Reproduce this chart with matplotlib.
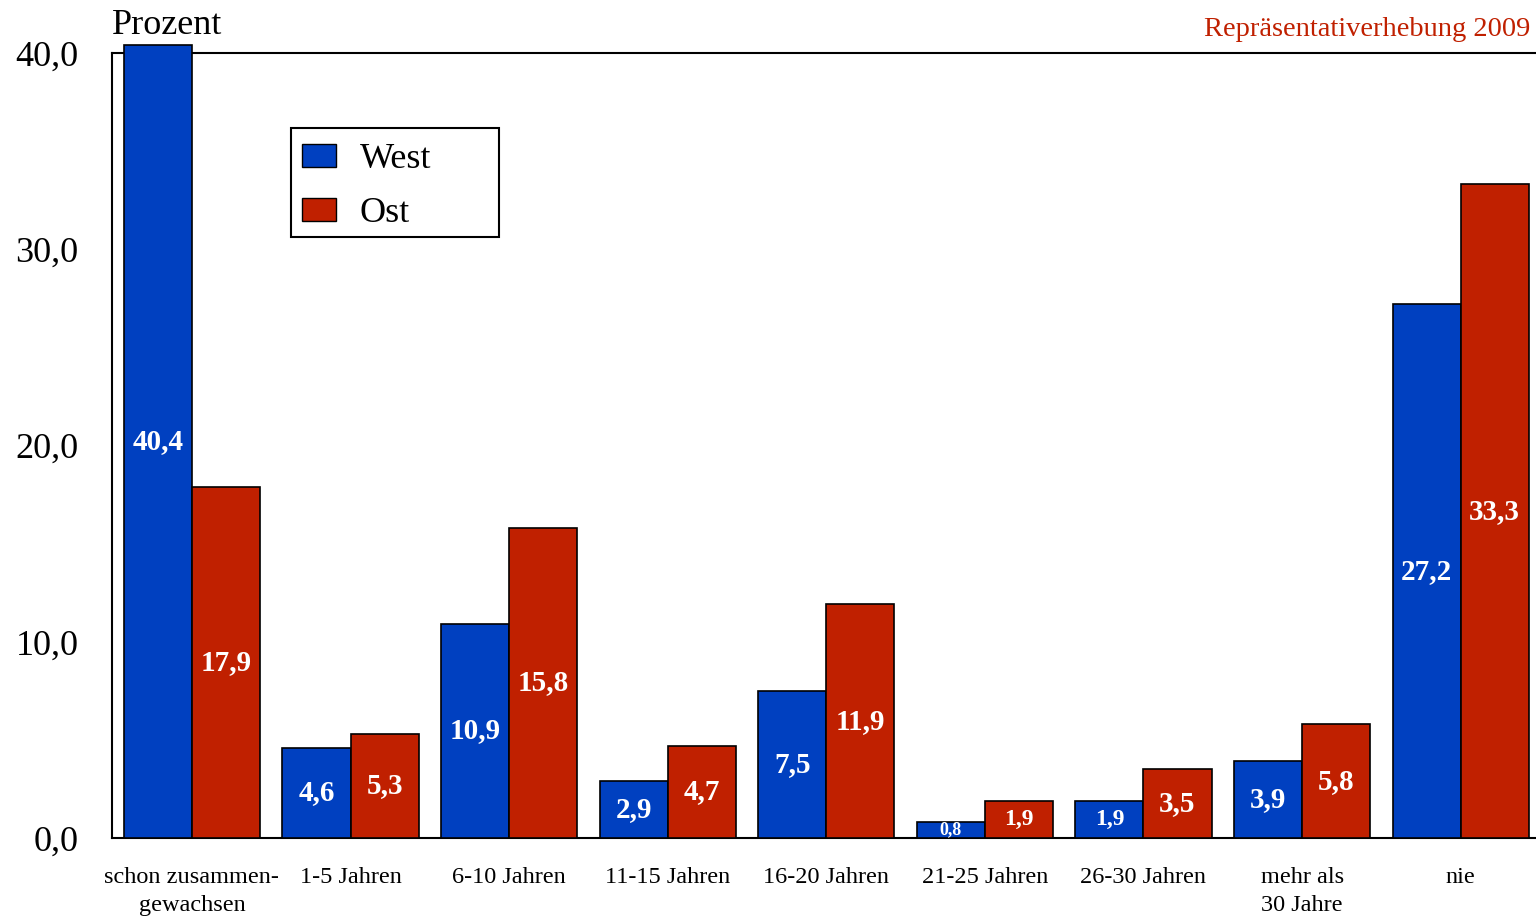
import matplotlib.pyplot as plt
import numpy as np
from matplotlib.patches import Patch, Rectangle

plt.rcParams['font.family'] = ['Liberation Serif', 'DejaVu Serif']

# Data
categories = ['schon zusammen-\ngewachsen', '1-5 Jahren', '6-10 Jahren', '11-15 Jahren',
              '16-20 Jahren', '21-25 Jahren', '26-30 Jahren', 'mehr als\n30 Jahre', 'nie']
west = [40.4, 4.6, 10.9, 2.9, 7.5, 0.8, 1.9, 3.9, 27.2]
ost = [17.9, 5.3, 15.8, 4.7, 11.9, 1.9, 3.5, 5.8, 33.3]
west_label_sizes = [21, 21, 21, 21, 21, 13, 17, 21, 21]
ost_label_sizes = [21, 21, 21, 21, 21, 17, 21, 21, 21]
yticks = [0, 10, 20, 30, 40]

blue = '#0040C0'
red = '#C02000'

fig = plt.figure(figsize=(15.36, 9.17), dpi=100)
ax = fig.add_axes([112 / 1536, 79 / 917, 1424 / 1536, 785 / 917])

x = np.arange(len(categories))
w = 0.429
ax.bar(x - w / 2, west, w, color=blue, edgecolor='black', linewidth=1.2, zorder=3, clip_on=False)
ax.bar(x + w / 2, ost, w, color=red, edgecolor='black', linewidth=1.2, zorder=3, clip_on=False)

# value labels in the middle of each bar
for xi, v, s in zip(x - w / 2, west, west_label_sizes):
    ax.text(xi, v / 2, f'{v:.1f}'.replace('.', ','), ha='center', va='center',
            color='white', fontsize=s, fontweight='bold', zorder=4)
for xi, v, s in zip(x + w / 2, ost, ost_label_sizes):
    ax.text(xi, v / 2, f'{v:.1f}'.replace('.', ','), ha='center', va='center',
            color='white', fontsize=s, fontweight='bold', zorder=4)

ax.set_xlim(-0.504, 8.475)
ax.set_ylim(0, 40)
ax.set_xticks(x)
ax.set_xticklabels(categories, fontsize=17.5, linespacing=1.4)
ax.set_yticks(yticks)
ax.set_yticklabels([f'{t:.1f}'.replace('.', ',') for t in yticks], fontsize=26)
ax.tick_params(axis='x', length=0, pad=21)
ax.tick_params(axis='y', length=0, pad=24)

for side in ['left', 'top', 'bottom']:
    ax.spines[side].set_linewidth(1.5)
ax.spines['right'].set_visible(False)

fig.text(112 / 1536, 1 - 25 / 917, 'Prozent', fontsize=26, ha='left', va='center')
fig.text(1530 / 1536, 1 - 29 / 917, 'Repräsentativerhebung 2009', fontsize=20.5,
         color=red, ha='right', va='center')

# legend with a fixed box
fig.patches.append(Rectangle((291 / 1536, 1 - 237 / 917), 208 / 1536, 109 / 917,
                             transform=fig.transFigure, fill=False, edgecolor='black',
                             linewidth=1.5, zorder=5))
handles = [Patch(facecolor=blue, edgecolor='black'), Patch(facecolor=red, edgecolor='black')]
ax.legend(handles, ['West', 'Ost'], loc='upper left', frameon=False,
          bbox_to_anchor=(291 / 1536, 1 - 132 / 917), bbox_transform=fig.transFigure,
          fontsize=26, handlelength=0.95, handleheight=0.6, handletextpad=0.65,
          labelspacing=0.6, borderpad=0.3, borderaxespad=0)

fig.savefig('out.png', dpi=100)
